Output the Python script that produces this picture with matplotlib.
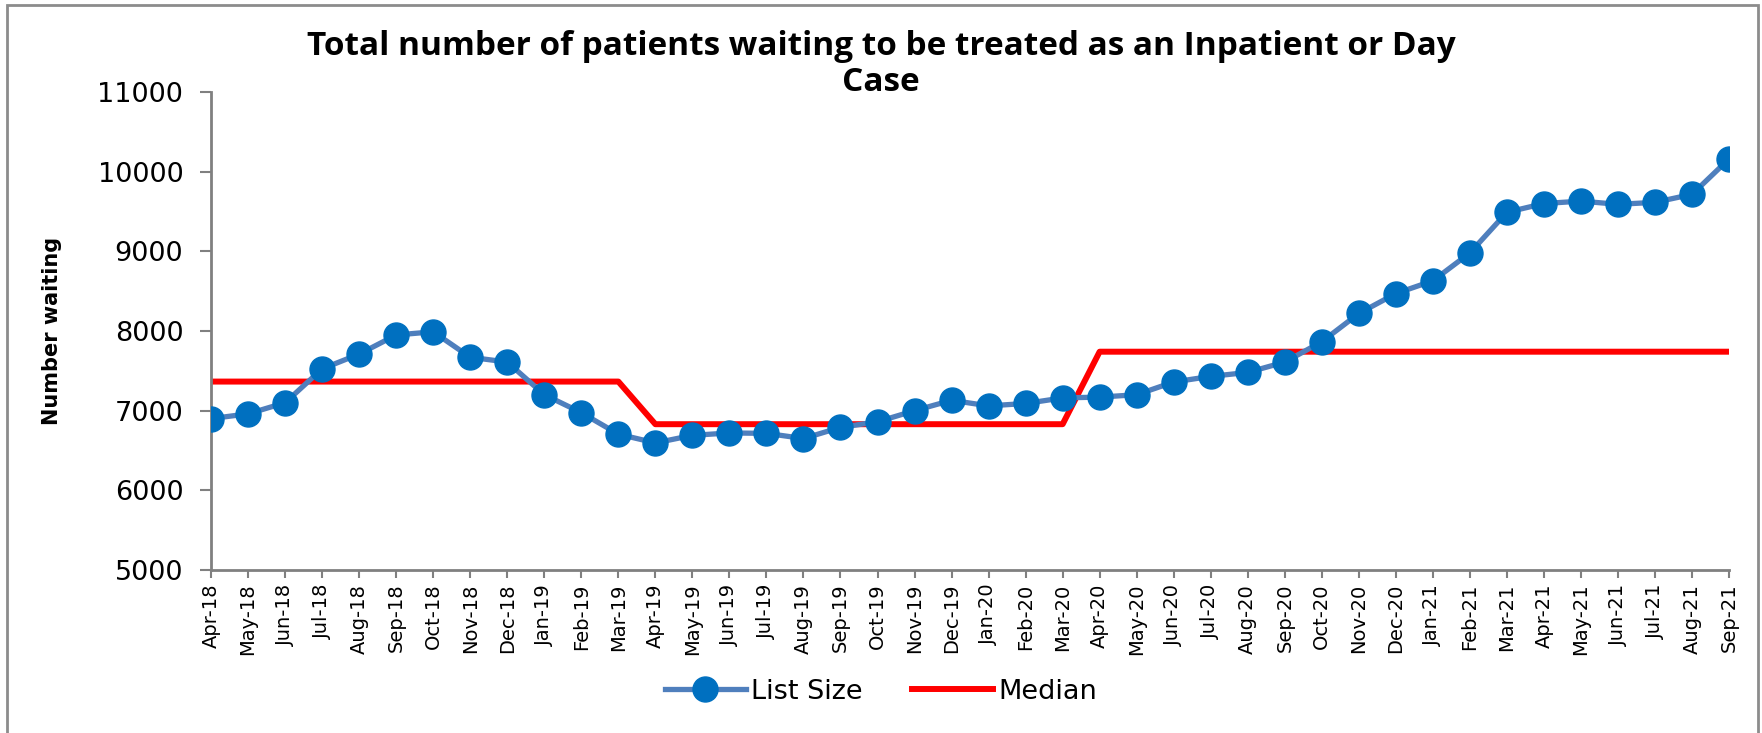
import matplotlib
matplotlib.use("Agg")
import matplotlib.pyplot as plt
from matplotlib.patches import Rectangle

months = ["Apr-18", "May-18", "Jun-18", "Jul-18", "Aug-18", "Sep-18", "Oct-18", "Nov-18",
          "Dec-18", "Jan-19", "Feb-19", "Mar-19", "Apr-19", "May-19", "Jun-19", "Jul-19",
          "Aug-19", "Sep-19", "Oct-19", "Nov-19", "Dec-19", "Jan-20", "Feb-20", "Mar-20",
          "Apr-20", "May-20", "Jun-20", "Jul-20", "Aug-20", "Sep-20", "Oct-20", "Nov-20",
          "Dec-20", "Jan-21", "Feb-21", "Mar-21", "Apr-21", "May-21", "Jun-21", "Jul-21",
          "Aug-21", "Sep-21"]

list_size = [6900, 6960, 7100, 7525, 7710, 7950, 7990, 7670, 7610, 7200, 6975, 6705,
             6595, 6690, 6720, 6715, 6650, 6790, 6860, 7000, 7130, 7060, 7090, 7160,
             7170, 7200, 7360, 7430, 7480, 7610, 7865, 8220, 8470, 8630, 8980, 9490,
             9600, 9630, 9590, 9615, 9715, 10160]

median = [7365] * 12 + [6830] * 12 + [7740] * 18

x = list(range(len(months)))

fig = plt.figure(figsize=(17.62, 7.33), dpi=100)
ax = fig.add_axes([0.1198, 0.2224, 0.8615, 0.6521])

ax.plot(x, list_size, color="#4f7fbd", lw=3.8, marker="o", markersize=18,
        markerfacecolor="#0070c0", markeredgecolor="#0070c0", label="List Size", zorder=3)
ax.plot(x, median, color="#ff0000", lw=4.3, label="Median", zorder=2)

ax.set_xlim(0, len(months) - 1)
ax.set_ylim(5000, 11000)
ax.set_yticks(range(5000, 11001, 1000))
ax.set_xticks(x)
ax.set_xticklabels(months, rotation=90, fontsize=14,
                   family=["Liberation Sans Narrow", "DejaVu Sans"])
ax.tick_params(axis="y", labelsize=19.5, length=8, color="#808080", width=1.5, pad=12)
ax.tick_params(axis="x", length=6, color="#808080", width=1.5, pad=4)

for s in ["top", "right"]:
    ax.spines[s].set_visible(False)
for s in ["left", "bottom"]:
    ax.spines[s].set_color("#808080")
    ax.spines[s].set_linewidth(2)

ax.set_ylabel("Number waiting", fontsize=15, fontweight="bold",
              family=["Liberation Sans Narrow", "DejaVu Sans"])
ax.yaxis.set_label_coords(-0.098, 0.5)

fig.text(0.5, 0.912, "Total number of patients waiting to be treated as an Inpatient or Day\nCase",
         ha="center", va="center", fontsize=24, fontweight="bold", family="Open Sans",
         linespacing=1.15)

fig.legend(loc="center", bbox_to_anchor=(0.5, 0.056), ncol=2, frameon=False,
           fontsize=19.5, handlelength=3.0, columnspacing=1.8, handletextpad=0.2)

fig.patches.append(Rectangle((0.004, -0.05), 0.994, 1.043, transform=fig.transFigure,
                             fill=False, edgecolor="#8c8c8c", lw=2))

fig.savefig("out.png", dpi=100)
